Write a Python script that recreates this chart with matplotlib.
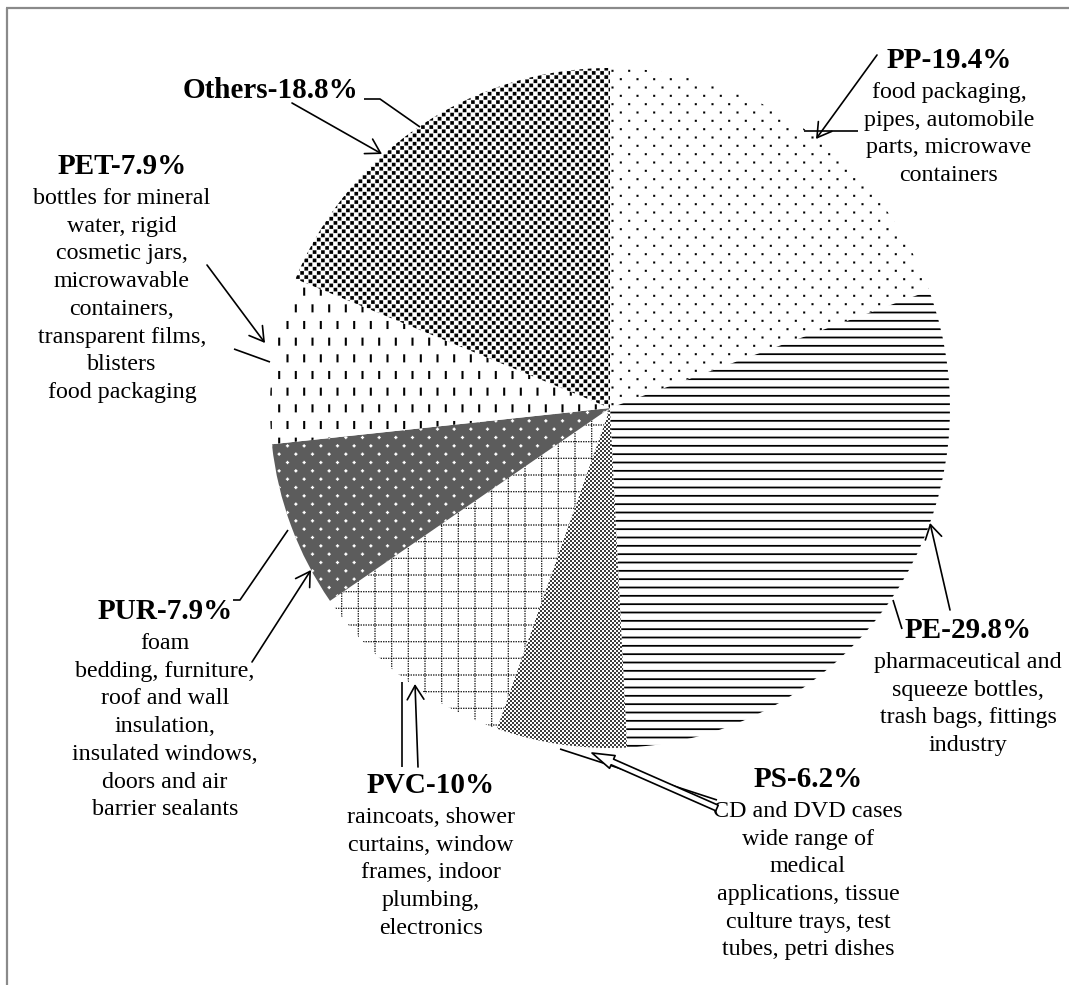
import numpy as np
import matplotlib
matplotlib.use('Agg')
import matplotlib.pyplot as plt
import matplotlib.hatch as mhatch
from matplotlib.path import Path

# ---------------- data ----------------
labels = ['PP', 'PE', 'PS', 'PVC', 'PUR', 'PET', 'Others']
shares = [19.4, 29.8, 6.2, 10, 7.9, 7.9, 18.8]
desc_PP = ['food packaging,', 'pipes, automobile', 'parts, microwave', 'containers']
desc_PE = ['pharmaceutical and', 'squeeze bottles,', 'trash bags, fittings', 'industry']
desc_PS = ['CD and DVD cases', 'wide range of', 'medical', 'applications, tissue',
           'culture trays, test', 'tubes, petri dishes']
desc_PVC = ['raincoats, shower', 'curtains, window', 'frames, indoor', 'plumbing,', 'electronics']
desc_PUR = ['foam', 'bedding, furniture,', 'roof and wall', 'insulation,',
            'insulated windows,', 'doors and air', 'barrier sealants']
desc_PET = ['bottles for mineral', 'water, rigid', 'cosmetic jars,', 'microwavable',
            'containers,', 'transparent films,', 'blisters', 'food packaging']
desc_Others = []
descriptions = [desc_PP, desc_PE, desc_PS, desc_PVC, desc_PUR, desc_PET, desc_Others]

W, H = 1069, 985


# ---------------- custom hatch patterns (unit tile = 1 inch = 100 px) ----------------
def lattice(nx, ny, w, h, stagger):
    rects = []
    dx, dy = 1.0 / nx, 1.0 / ny
    for r in range(ny):
        for c in range(nx):
            cx = (c + 0.25 + (0.5 if (stagger and r % 2) else 0.0)) * dx
            cy = (r + 0.5) * dy
            rects.append((cx - w / 200, cy - h / 200, cx + w / 200, cy + h / 200))
    return rects


def hbars(n, h):
    return [(0.0, (r + 0.5) / n - h / 200, 1.0, (r + 0.5) / n + h / 200) for r in range(n)]


def dotted_grid(n, ndots, s):
    rects = []
    for i in range(n):
        p = (i + 0.5) / n
        for k in range(ndots):
            q = (k + 0.5) / ndots
            rects.append((p - s / 200, q - s / 200, p + s / 200, q + s / 200))
            rects.append((q - s / 200, p - s / 200, q + s / 200, p + s / 200))
    return rects


def plus_lattice(nx, ny, stagger):
    return lattice(nx, ny, 3.2, 1.2, stagger) + lattice(nx, ny, 1.2, 3.2, stagger)


HATCH_SHAPES = {
    '.': lattice(6, 12, 2.0, 2.0, True),        # PP sparse dots
    '-': hbars(12, 1.7),                        # PE horizontal lines
    '*': lattice(25, 50, 1.7, 1.7, True),       # PS fine dots
    '+': dotted_grid(6, 40, 1.2),               # PVC dotted grid
    'x': plus_lattice(6, 12, True),             # PUR white crosses on grey
    '|': lattice(6, 6, 2.0, 8.0, True),         # PET vertical dashes
    'X': lattice(12, 24, 3.6, 3.6, True),       # Others dark checker
}


class RectHatch(mhatch.HatchPatternBase):
    def __init__(self, hatch, density):
        self.rects = HATCH_SHAPES.get(hatch, [])
        self.num_vertices = 5 * len(self.rects)

    def set_vertices_and_codes(self, vertices, codes):
        for i, (x0, y0, x1, y1) in enumerate(self.rects):
            vertices[5 * i:5 * i + 5] = [(x0, y0), (x1, y0), (x1, y1), (x0, y1), (x0, y0)]
            codes[5 * i] = Path.MOVETO
            codes[5 * i + 1:5 * i + 4] = Path.LINETO
            codes[5 * i + 4] = Path.CLOSEPOLY


mhatch._hatch_types = [RectHatch]
plt.rcParams['hatch.linewidth'] = 0.05

hatches = ['.', '-', '*', '+', 'x', '|', 'X']
faces = ['white', 'white', 'white', 'white', '#5c5c5c', 'white', 'white']
hatch_cols = ['black', 'black', 'black', 'black', 'white', 'black', 'black']

plt.rcParams['font.family'] = ['Liberation Serif', 'DejaVu Serif']


def P(x, y):
    return (x, H - y)


fig = plt.figure(figsize=(W / 100, H / 100), dpi=100)
ax = fig.add_axes([0, 0, 1, 1])

wedges, _ = ax.pie(shares, startangle=90, counterclock=False,
                   center=P(610, 408), radius=340,
                   wedgeprops=dict(linewidth=0))
for w, hp, fc, hc in zip(wedges, hatches, faces, hatch_cols):
    w.set_facecolor(fc)
    w.set_edgecolor(hc)
    w.set_linewidth(0)
    w.set_hatch(hp)

ax.set_xlim(0, W)
ax.set_ylim(0, H)
ax.set_aspect('equal')
ax.axis('off')

# frame (gray border)
ax.plot([7, 7], [H - 8, -5], color='#8a8a8a', lw=1.6, solid_capstyle='butt')
ax.plot([6, W + 5], [H - 8, H - 8], color='#8a8a8a', lw=1.6, solid_capstyle='butt')

# ---------------- labels ----------------
# (center x, title baseline y) in pixels
label_pos = {
    'PP': (949, 68, 'center'),
    'PE': (968, 638, 'center'),
    'PS': (808, 787, 'center'),
    'PVC': (431, 793, 'center'),
    'PUR': (165, 619, 'center'),
    'PET': (122, 174, 'center'),
    'Others': (358, 98, 'right'),
}
TITLE_FS = 21
BODY_FS = 17.3
PITCH = 27.7
for lab, sh, lines in zip(labels, shares, descriptions):
    x, yb, ha = label_pos[lab]
    ax.text(*P(x, yb), f"{lab}-{sh:g}%", ha=ha, va='baseline',
            fontsize=TITLE_FS, fontweight='bold')
    for i, ln in enumerate(lines):
        ax.text(*P(x, yb + 30 + i * PITCH), ln, ha=ha, va='baseline', fontsize=BODY_FS)

# ---------------- leader lines and arrows ----------------
LW = 1.2
leaders = [
    [(364, 99), (380, 99), (420, 127)],      # Others
    [(804, 131), (858, 131)],                # PP
    [(893, 600), (902, 629)],                # PE
    [(560, 749), (717, 800)],                # PS
    [(402, 682), (402, 767)],                # PVC
    [(233, 600), (240, 600), (288, 530)],    # PUR
    [(234, 349), (270, 362)],                # PET
]
for pts in leaders:
    xy = np.array([P(*p) for p in pts])
    ax.plot(xy[:, 0], xy[:, 1], color='black', lw=LW, solid_capstyle='butt')

arrows = [
    ((292, 103), (382, 154)),   # Others
    ((877, 55), (816, 139)),    # PP
    ((950, 610), (930, 523)),   # PE
    ((418, 767), (415, 684)),   # PVC
    ((252, 662), (311, 570)),   # PUR
    ((207, 265), (265, 343)),   # PET
]
for start, end in arrows:
    ax.annotate('', xy=P(*end), xytext=P(*start),
                arrowprops=dict(arrowstyle='->,head_length=0.5,head_width=0.3',
                                lw=LW, color='black', shrinkA=0, shrinkB=0,
                                mutation_scale=20))

# PS hollow arrow
ax.annotate('', xy=P(592, 753), xytext=P(717, 808),
            arrowprops=dict(arrowstyle='simple,head_length=0.8,head_width=0.5,tail_width=0.22',
                            lw=LW, fc='white', ec='black', shrinkA=0, shrinkB=0,
                            mutation_scale=20))

fig.savefig('out.png', dpi=100)
